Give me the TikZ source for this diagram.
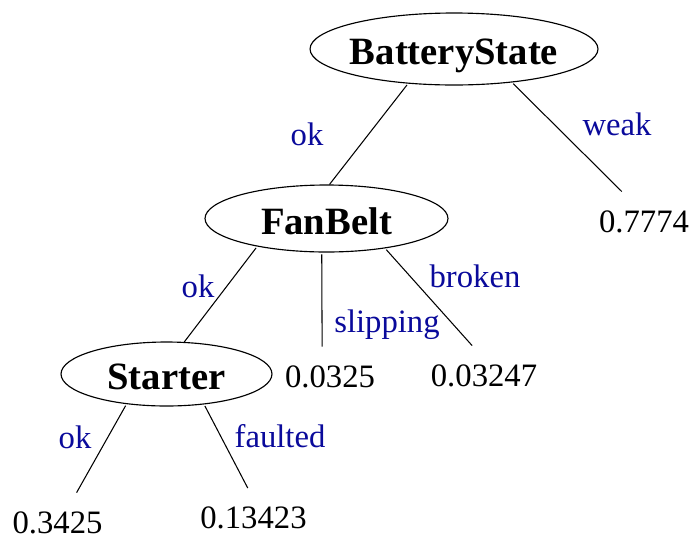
\documentclass[tikz,border=0pt]{standalone}
\usepackage{fontspec}
\setmainfont{Liberation Serif}
\usetikzlibrary{shapes.geometric}
\usepackage{xcolor}
\definecolor{lblblue}{RGB}{10,10,155}
\tikzset{
    var/.style={
        draw,ellipse,line width=0.65pt,inner xsep=-0.15cm,inner ysep=0pt,
        font=\fontsize{22}{26}\selectfont\bfseries,
        text height=0.62cm,text depth=0pt
    },
    leaf/.style={
        inner xsep=2pt,inner ysep=0.36cm,
        font=\fontsize{18.6}{22}\selectfont,
        text height=12.6pt,text depth=0pt
    },
    lbl/.style={
        anchor=base,text=lblblue,inner sep=0pt,
        font=\fontsize{18.6}{22}\selectfont
    },
    link/.style={
        line width=0.6pt,draw=black,shorten <=1pt
    }
}

\begin{document}
\begin{tikzpicture}[x=0.02cm,y=-0.02cm]
\useasboundingbox (0,0) rectangle (695,538);

\node[var,minimum width=5.76cm,minimum height=1.44cm] (bs) at (454,49) {BatteryState};
\node[var,minimum width=4.86cm,minimum height=1.34cm] (fb) at (326.5,218.5) {FanBelt};
\node[var,minimum width=4.22cm,minimum height=1.28cm] (st) at (166.5,374) {Starter};

\node[leaf] (weak) at (644,221) {0.7774};
\node[leaf] (slip) at (330,376) {0.0325};
\node[leaf] (brok) at (484,375) {0.03247};
\node[leaf] (sok) at (57.5,522) {0.3425};
\node[leaf] (sflt) at (253.5,517.5) {0.13423};

\draw[link] (bs.217) -- (fb.85);
\draw[link] (bs.330) -- (weak.127);
\draw[link] (fb.202) -- (st.61);
\draw[link] (fb.262) -- (slip.105);
\draw[link] (fb.333) -- (brok.112);
\draw[link] (st.217) -- (sok.57);
\draw[link] (st.321) -- (sflt.101);

\node[lbl] (l1) at (307,145) {ok};
\node[lbl] (l2) at (617,135) {weak};
\node[lbl] (l3) at (198,297) {ok};
\node[lbl] (l4) at (387,332) {slipping};
\node[lbl] (l5) at (475,287) {broken};
\node[lbl] (l6) at (75,448) {ok};
\node[lbl] (l7) at (280,447) {faulted};

\end{tikzpicture}
\end{document}
